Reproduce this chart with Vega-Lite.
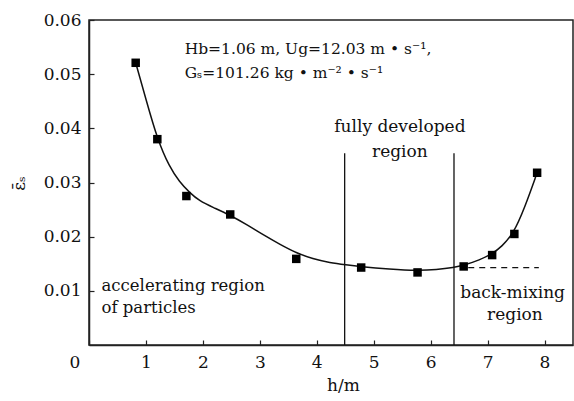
{
  "$schema": "https://vega.github.io/schema/vega-lite/v6.json",
  "width": 484,
  "height": 325,
  "autosize": "none",
  "padding": {"left": 89, "top": 20, "right": 1, "bottom": 56},
  "background": "white",
  "config": {
    "view": {"stroke": "#222", "strokeWidth": 1.5},
    "font": "DejaVu Serif",
    "axis": {
      "domainColor": "#222", "domainWidth": 1.5, "tickColor": "#222", "tickWidth": 1.2, "tickSize": -5,
      "labelFont": "DejaVu Serif", "labelFontSize": 17, "labelColor": "#111",
      "grid": false, "titleFont": "DejaVu Serif", "titleFontSize": 17, "titleColor": "#111", "titleFontWeight": "normal"
    }
  },
  "datasets": {
    "points": [
      {"h": 0.82, "e": 0.0521}, {"h": 1.20, "e": 0.0380}, {"h": 1.71, "e": 0.0275},
      {"h": 2.48, "e": 0.0241}, {"h": 3.64, "e": 0.0159}, {"h": 4.78, "e": 0.0143},
      {"h": 5.77, "e": 0.0134}, {"h": 6.58, "e": 0.0145}, {"h": 7.08, "e": 0.0166},
      {"h": 7.47, "e": 0.0205}, {"h": 7.87, "e": 0.0318}
    ],
    "curve": [
      {"h": 0.82, "e": 0.0521}, {"h": 1.005, "e": 0.0452}, {"h": 1.20, "e": 0.0380},
      {"h": 1.41, "e": 0.0329}, {"h": 1.59, "e": 0.0301}, {"h": 1.77, "e": 0.0281},
      {"h": 1.94, "e": 0.0266}, {"h": 2.18, "e": 0.0254}, {"h": 2.47, "e": 0.0240},
      {"h": 2.76, "e": 0.0223}, {"h": 3.05, "e": 0.0204}, {"h": 3.35, "e": 0.0186},
      {"h": 3.64, "e": 0.0170}, {"h": 3.93, "e": 0.0159}, {"h": 4.23, "e": 0.0152},
      {"h": 4.52, "e": 0.0148}, {"h": 4.75, "e": 0.0145}, {"h": 5.28, "e": 0.0140},
      {"h": 5.77, "e": 0.0137}, {"h": 6.1, "e": 0.0139}, {"h": 6.41, "e": 0.0143},
      {"h": 6.58, "e": 0.0147}, {"h": 6.86, "e": 0.0157}, {"h": 7.08, "e": 0.0168},
      {"h": 7.25, "e": 0.0182}, {"h": 7.45, "e": 0.0205}, {"h": 7.65, "e": 0.0253},
      {"h": 7.87, "e": 0.0318}
    ],
    "vlines": [{"h": 4.49, "e": 0, "e2": 0.0354}, {"h": 6.41, "e": 0, "e2": 0.0354}],
    "dash": [{"h": 6.66, "h2": 7.9, "e": 0.0143}],
    "paramText": [
      {"h": 1.68, "e": 0.0537, "t": "Hb=1.06 m, Ug=12.03 m • s⁻¹,"},
      {"h": 1.68, "e": 0.0493, "t": "Gₛ=101.26 kg • m⁻² • s⁻¹"}
    ],
    "leftText": [
      {"h": 0.22, "e": 0.00997, "t": "accelerating region"},
      {"h": 0.22, "e": 0.0059, "t": "of particles"}
    ],
    "centerText": [
      {"h": 5.46, "e": 0.0393, "t": "fully developed"},
      {"h": 5.46, "e": 0.0347, "t": "region"},
      {"h": 7.44, "e": 0.0087, "t": "back-mixing"},
      {"h": 7.48, "e": 0.0046, "t": "region"}
    ]
  },
  "layer": [
    {
      "data": {"name": "curve"},
      "mark": {"type": "line", "interpolate": "basis", "color": "#111", "strokeWidth": 1.5},
      "encoding": {
        "x": {"field": "h", "type": "quantitative", "scale": {"domain": [0, 8.5], "nice": false},
          "axis": {"values": [0, 1, 2, 3, 4, 5, 6, 7, 8], "format": "d", "title": "h/m", "labelPadding": 14,
            "labelOffset": {"condition": {"test": "datum.value === 0", "value": -20}, "value": 0},
            "titlePadding": 7, "titleX": 254}},
        "y": {"field": "e", "type": "quantitative", "scale": {"domain": [0, 0.06], "nice": false},
          "axis": {"values": [0.01, 0.02, 0.03, 0.04, 0.05, 0.06], "format": ".2f", "title": "ε̄ₛ", "labelPadding": 13,
            "titleX": -61, "titleY": 163}}
      }
    },
    {
      "data": {"name": "points"},
      "mark": {"type": "square", "size": 72, "filled": true, "color": "#000", "opacity": 1},
      "encoding": {"x": {"field": "h", "type": "quantitative"}, "y": {"field": "e", "type": "quantitative"}}
    },
    {
      "data": {"name": "vlines"},
      "mark": {"type": "rule", "color": "#111", "strokeWidth": 1.3},
      "encoding": {"x": {"field": "h", "type": "quantitative"}, "y": {"field": "e", "type": "quantitative"}, "y2": {"field": "e2"}}
    },
    {
      "data": {"name": "dash"},
      "mark": {"type": "rule", "color": "#111", "strokeWidth": 1.3, "strokeDash": [6, 5]},
      "encoding": {"x": {"field": "h", "type": "quantitative"}, "x2": {"field": "h2"}, "y": {"field": "e", "type": "quantitative"}}
    },
    {
      "data": {"name": "paramText"},
      "mark": {"type": "text", "align": "left", "baseline": "alphabetic", "font": "DejaVu Serif", "fontSize": 15.5, "color": "#111"},
      "encoding": {"x": {"field": "h", "type": "quantitative"}, "y": {"field": "e", "type": "quantitative"}, "text": {"field": "t"}}
    },
    {
      "data": {"name": "leftText"},
      "mark": {"type": "text", "align": "left", "baseline": "alphabetic", "font": "DejaVu Serif", "fontSize": 16.5, "color": "#111"},
      "encoding": {"x": {"field": "h", "type": "quantitative"}, "y": {"field": "e", "type": "quantitative"}, "text": {"field": "t"}}
    },
    {
      "data": {"name": "centerText"},
      "mark": {"type": "text", "align": "center", "baseline": "alphabetic", "font": "DejaVu Serif", "fontSize": 17, "color": "#111"},
      "encoding": {"x": {"field": "h", "type": "quantitative"}, "y": {"field": "e", "type": "quantitative"}, "text": {"field": "t"}}
    }
  ]
}
